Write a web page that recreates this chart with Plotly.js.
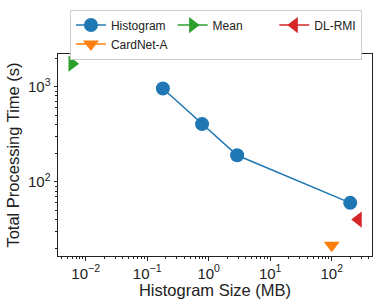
<!DOCTYPE html>
<html><head><meta charset="utf-8">
<script src="https://cdn.plot.ly/plotly-3.0.1.min.js"></script>
<style>html,body{margin:0;padding:0;background:#fff;}#chart{width:382px;height:304px;}</style>
</head><body><div id="chart"></div>
<script>
const histSizes = [0.18, 0.78, 2.9, 200];
const histTimes = [960, 405, 190, 60];
const meanSize = [0.006];
const meanTime = [1750];
const dlrmiSize = [270];
const dlrmiTime = [40];
const cardnetSize = [100];
const cardnetTime = [21.5];
const xTickVals = [0.01, 0.1, 1, 10, 100];
const xTickText = ['10<sup>−2</sup>', '10<sup>−1</sup>', '10<sup>0</sup>', '10<sup>1</sup>', '10<sup>2</sup>'];
const yTickVals = [100, 1000];
const yTickText = ['10<sup>2</sup>', '10<sup>3</sup>'];

const fam = 'Liberation Sans, Arial, sans-serif';
const font = {family: fam, color: '#222'};
const traces = [
  {x: histSizes, y: histTimes, name: 'Histogram', mode: 'lines+markers',
   line: {color: '#1f77b4', width: 1.5}, marker: {color: '#1f77b4', size: 14, symbol: 'circle'}},
  {x: meanSize, y: meanTime, name: 'Mean', mode: 'lines+markers',
   line: {color: '#2ca02c', width: 1.5}, marker: {color: '#2ca02c', size: 14, symbol: 'triangle-right'}},
  {x: dlrmiSize, y: dlrmiTime, name: 'DL-RMI', mode: 'lines+markers',
   line: {color: '#d62728', width: 1.5}, marker: {color: '#d62728', size: 14, symbol: 'triangle-left'}},
  {x: cardnetSize, y: cardnetTime, name: 'CardNet-A', mode: 'lines+markers',
   line: {color: '#ff7f0e', width: 1.5}, marker: {color: '#ff7f0e', size: 14, symbol: 'triangle-down'}}
];
const axisCommon = {
  type: 'log', showgrid: false, zeroline: false, showline: true, linecolor: '#222', linewidth: 1,
  mirror: true, ticks: 'outside', ticklen: 3.5, tickcolor: '#222', tickmode: 'array',
  tickfont: {size: 15, family: fam, color: '#222'},
  minor: {ticks: 'outside', ticklen: 2, tickcolor: '#222', dtick: 'D1', showgrid: false}
};
const layout = {
  width: 382, height: 304,
  margin: {l: 58, r: 10, t: 51, b: 48},
  paper_bgcolor: '#fff', plot_bgcolor: '#fff',
  font: font,
  showlegend: true,
  xaxis: Object.assign({}, axisCommon, {range: [-2.45, 2.655], tickvals: xTickVals, ticktext: xTickText,
    title: {text: 'Histogram Size (MB)', font: {size: 16.5, family: fam, color: '#222'}, standoff: 1}}),
  yaxis: Object.assign({}, axisCommon, {range: [1.219, 3.345], tickvals: yTickVals, ticktext: yTickText,
    title: {text: 'Total Processing Time (s)', font: {size: 16.5, family: fam, color: '#222'}, standoff: 4}}),
  legend: {orientation: 'h', x: 0.038, y: 1.22, xanchor: 'left', yanchor: 'top',
    bordercolor: '#ccc', borderwidth: 1, bgcolor: '#fff',
    font: {size: 12, family: fam, color: '#222'},
    tracegroupgap: 0, itemwidth: 30}
};
Plotly.newPlot('chart', traces, layout, {displayModeBar: false, staticPlot: true});
</script></body></html>
